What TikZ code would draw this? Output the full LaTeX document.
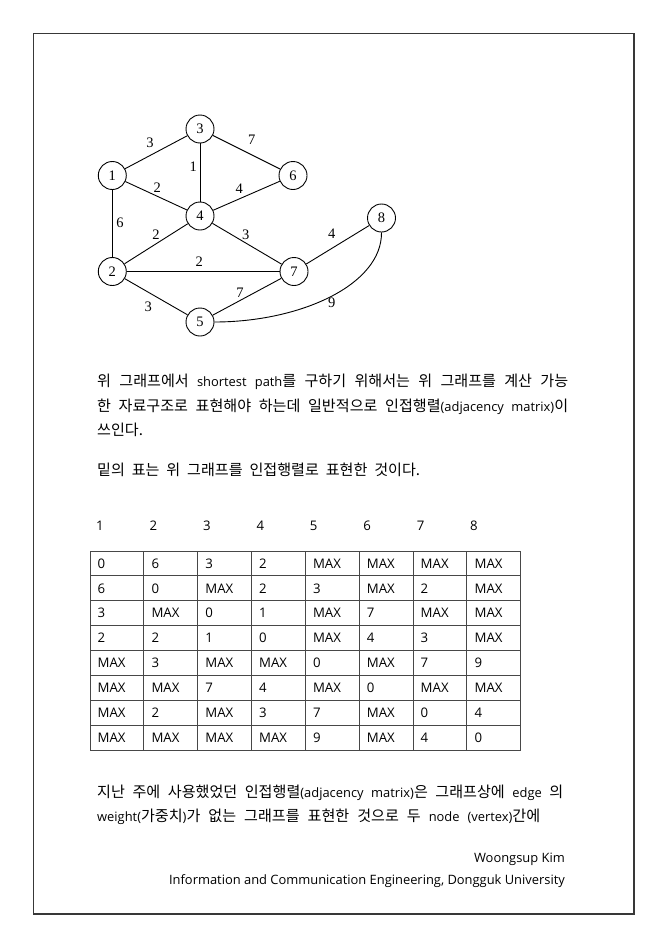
\documentclass[tikz,border=0pt]{standalone}
\usepackage{fontspec}
\setmainfont{Open Sans}
\newfontfamily\kr{Noto Sans CJK KR}[Scale=1.17]
\newfontfamily\gser{Liberation Serif}
\begin{document}
\begin{tikzpicture}[x=1pt,y=-1pt,
  vtx/.style={draw,circle,line width=0.9pt,minimum size=28pt,inner sep=0pt,font=\gser\fontsize{14.5}{16}\selectfont},
  edge/.style={line width=0.9pt},
  wlab/.style={inner sep=0pt,font=\gser\fontsize{14.5}{16}\selectfont},
  txt/.style={anchor=base west,inner sep=0pt,font=\fontsize{12.9}{16}\selectfont},
  cell/.style={anchor=base west,inner sep=0pt,font=\fontsize{13.2}{15}\selectfont},
  head/.style={anchor=base,inner sep=0pt,font=\fontsize{13.2}{15}\selectfont},
  gridline/.style={line width=0.9pt,draw=black!72},
  frame/.style={line width=1.1pt,draw=black!78}]
\useasboundingbox (0,0) rectangle (665,945);
\fill[white] (0,0) rectangle (665,945);
\draw[frame] (33.5,33.5) rectangle (634,914);

% graph
\node[vtx] (n3) at (200,129) {3};
\node[vtx] (n1) at (112.3,175.5) {1};
\node[vtx] (n6) at (293,175.5) {6};
\node[vtx] (n4) at (200,216) {4};
\node[vtx] (n8) at (381.5,218) {8};
\node[vtx] (n2) at (112.3,271.5) {2};
\node[vtx] (n7) at (294,271.5) {7};
\node[vtx] (n5) at (200,322) {5};

\draw[edge] (n1) -- (n3);
\draw[edge] (n3) -- (n6);
\draw[edge] (n3) -- (n4);
\draw[edge] (n1) -- (n4);
\draw[edge] (n4) -- (n6);
\draw[edge] (n1) -- (n2);
\draw[edge] (n2) -- (n4);
\draw[edge] (n4) -- (n7);
\draw[edge] (n2) -- (n7);
\draw[edge] (n7) -- (n8);
\draw[edge] (n2) -- (n5);
\draw[edge] (n5) -- (n7);
\draw[edge] (n5.east) .. controls (300,322) and (382,285) .. (n8.south);

\node[wlab] (l13) at (150,143) {3};
\node[wlab] (l36) at (251.7,140) {7};
\node[wlab] (l34) at (193.3,166.7) {1};
\node[wlab] (l14) at (157.3,187.3) {2};
\node[wlab] (l46) at (239.3,188.3) {4};
\node[wlab] (l12) at (120,222.7) {6};
\node[wlab] (l24) at (156,235) {2};
\node[wlab] (l47) at (245.7,235) {3};
\node[wlab] (l27) at (199.3,261.7) {2};
\node[wlab] (l78) at (331.7,233.3) {4};
\node[wlab] (l57) at (240,292.7) {7};
\node[wlab] (l25) at (148.3,306.7) {3};
\node[wlab] (l58) at (331.7,302.7) {9};

% text
\node[txt] (p1) at (97,386.7) {\makebox[471pt][s]{{\kr 위 그래프에서} shortest path{\kr 를 구하기 위해서는 위 그래프를 계산 가능}}};
\node[txt] (p2) at (97,411.5) {\makebox[471pt][s]{{\kr 한 자료구조로 표현해야 하는데 일반적으로 인접행렬}(adjacency matrix){\kr 이}}};
\node[txt] (p3) at (97,435) {{\kr 쓰인다.}};
\node[txt] (p4) at (97,475) {\makebox[323pt][s]{{\kr 밑의 표는 위 그래프를 인접행렬로 표현한 것이다.}}};

% column headers
\foreach \i in {1,...,8} {
  \node[head] (h\i) at ({100+53.43*(\i-1)},530.6) {\i};
}

% table grid
\foreach \k in {0,...,8} {
  \draw[gridline] ({90+53.84*\k},551) -- ({90+53.84*\k},750);
  \draw[gridline] (90,{551+24.875*\k}) -- (520.7,{551+24.875*\k});
}
\foreach \row [count=\r] in {
  {0,6,3,2,MAX,MAX,MAX,MAX},
  {6,0,MAX,2,3,MAX,2,MAX},
  {3,MAX,0,1,MAX,7,MAX,MAX},
  {2,2,1,0,MAX,4,3,MAX},
  {MAX,3,MAX,MAX,0,MAX,7,9},
  {MAX,MAX,7,4,MAX,0,MAX,MAX},
  {MAX,2,MAX,3,7,MAX,0,4},
  {MAX,MAX,MAX,MAX,9,MAX,4,0}} {
  \foreach \v [count=\c] in \row {
    \node[cell] (t\r-\c) at ({90+53.84*(\c-1)+7.5},{551+24.875*(\r-0.5)+4.7}) {\v};
  }
}

% bottom text
\node[txt] (q1) at (97,797.7) {\makebox[466pt][s]{{\kr 지난 주에 사용했었던 인접행렬}(adjacency matrix){\kr 은 그래프상에} edge {\kr 의}}};
\node[txt] (q2) at (97,821.7) {\makebox[443pt][s]{weight({\kr 가중치}){\kr 가 없는 그래프를 표현한 것으로 두} node (vertex){\kr 간에}}};

\node[txt,anchor=base east] (a1) at (565,862) {Woongsup Kim};
\node[txt,anchor=base east] (a2) at (565,884) {Information and Communication Engineering, Dongguk University};
\end{tikzpicture}
\end{document}
